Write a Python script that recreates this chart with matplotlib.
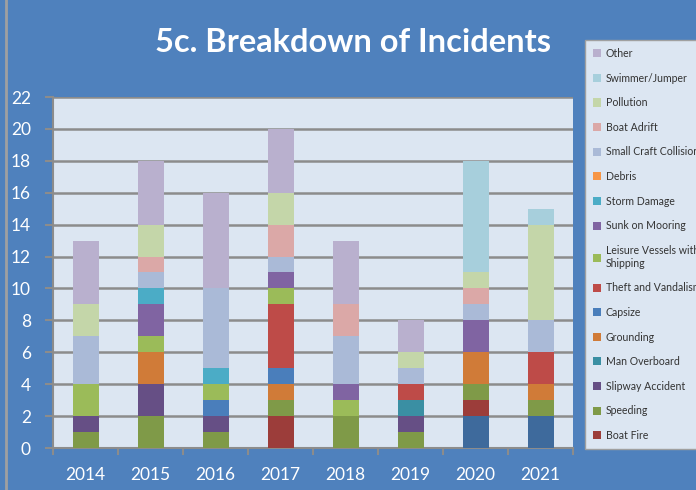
import numpy as np
import matplotlib.pyplot as plt

years = ['2014', '2015', '2016', '2017', '2018', '2019', '2020', '2021']

# series bottom -> top (first one has no legend entry in the source)
series = ['_unlabeled', 'Boat Fire', 'Speeding', 'Slipway Accident', 'Man Overboard',
          'Grounding', 'Capsize', 'Theft and Vandalism', 'Leisure Vessels with\nShipping',
          'Sunk on Mooring', 'Storm Damage', 'Debris', 'Small Craft Collision',
          'Boat Adrift', 'Pollution', 'Swimmer/Jumper', 'Other']
colors = ['#3E6A9C', '#9C3D3A', '#7F9A48', '#664F85', '#3A8FA3', '#D07B38', '#4A7EBB',
          '#BE4B48', '#9BBB59', '#8064A2', '#4BACC6', '#F79646', '#AABAD7',
          '#DBA8A7', '#C4D6A9', '#A7CFDC', '#B9B0CE']

unlabeled = [0, 0, 0, 0, 0, 0, 2, 2]
boat_fire = [0, 0, 0, 2, 0, 0, 1, 0]
speeding = [1, 2, 1, 1, 2, 1, 1, 1]
slipway = [1, 2, 1, 0, 0, 1, 0, 0]
man_overboard = [0, 0, 0, 0, 0, 1, 0, 0]
grounding = [0, 2, 0, 1, 0, 0, 2, 1]
capsize = [0, 0, 1, 1, 0, 0, 0, 0]
theft = [0, 0, 0, 4, 0, 1, 0, 2]
leisure = [2, 1, 1, 1, 1, 0, 0, 0]
sunk = [0, 2, 0, 1, 1, 0, 2, 0]
storm = [0, 1, 1, 0, 0, 0, 0, 0]
debris = [0, 0, 0, 0, 0, 0, 0, 0]
small_craft = [3, 1, 5, 1, 3, 1, 1, 2]
boat_adrift = [0, 1, 0, 2, 2, 0, 1, 0]
pollution = [2, 2, 0, 2, 0, 1, 1, 6]
swimmer = [0, 0, 0, 0, 0, 0, 7, 1]
other = [4, 4, 6, 4, 4, 2, 0, 0]

values = [unlabeled, boat_fire, speeding, slipway, man_overboard, grounding, capsize,
          theft, leisure, sunk, storm, debris, small_craft, boat_adrift, pollution,
          swimmer, other]

plt.rcParams['font.family'] = ['Lato', 'DejaVu Sans']

fig = plt.figure(figsize=(6.96, 4.9), dpi=100, facecolor='#4F81BD')
ax = fig.add_axes([53/696, 1-448/490, 520/696, 351/490])
ax.set_facecolor('#DCE6F2')

x = np.arange(len(years))
bottom = np.zeros(len(years))
for name, vals, c in zip(series, values, colors):
    v = np.array(vals, dtype=float)
    ax.bar(x, v, 0.4, bottom=bottom, color=c, label=name, zorder=3)
    bottom += v

ax.set_xlim(-0.5, len(years) - 0.5)
ax.set_ylim(0, 22)
ax.set_yticks(range(0, 23, 2))
ax.set_xticks(x)
ax.set_xticklabels(years)
ax.set_xticks(np.arange(-0.5, len(years)), minor=True)
ax.tick_params(axis='x', which='major', length=0, pad=14, labelsize=12.5, colors='white')
ax.tick_params(axis='x', which='minor', length=5, color='#8C8C8C', width=1.5)
ax.tick_params(axis='y', length=6, color='#8C8C8C', width=1.5, labelsize=12.5,
               labelcolor='white', pad=10)
ax.grid(axis='y', color='#8C8C8C', linewidth=1.8, zorder=1)
for s in ['top', 'right']:
    ax.spines[s].set_visible(False)
for s in ['left', 'bottom']:
    ax.spines[s].set_color('#8C8C8C')
    ax.spines[s].set_linewidth(1.5)

fig.text(353/696, 1-43/490, '5c. Breakdown of Incidents', color='white',
         fontsize=23.5, fontweight='bold', ha='center', va='center')

# left gray border line
fig.add_artist(plt.Line2D([6/696, 6/696], [0, 1], color='#A0A0A0', linewidth=2))

h, l = ax.get_legend_handles_labels()
leg = fig.legend(h[::-1], l[::-1], loc='upper left',
                 bbox_to_anchor=(585/696, 1-40/490), fontsize=7.6,
                 frameon=True, fancybox=False, facecolor='#DCE6F2',
                 edgecolor='#A0A0A0', framealpha=1, handlelength=0.8,
                 handleheight=0.8, handletextpad=0.4, labelspacing=1.29,
                 borderpad=0.75, borderaxespad=0)
for t in leg.get_texts():
    t.set_color('#333333')

fig.savefig('out.png', dpi=100, facecolor=fig.get_facecolor())
